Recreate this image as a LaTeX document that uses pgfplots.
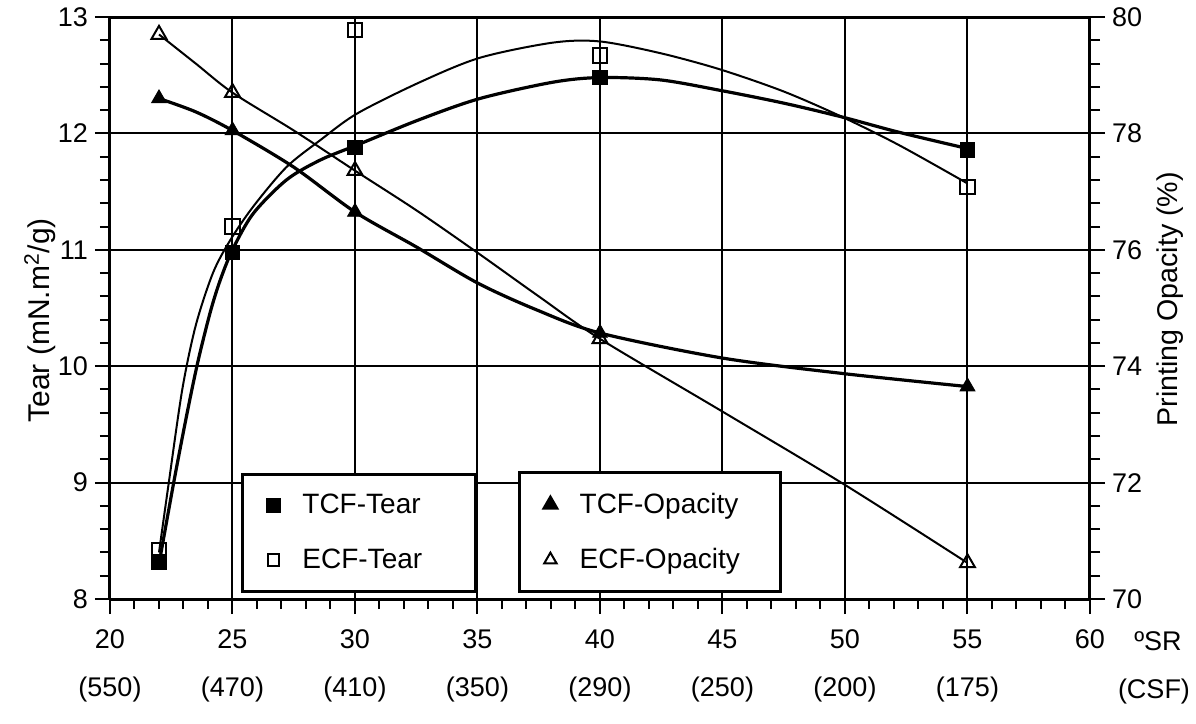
\documentclass[border=0pt]{standalone}
\usepackage{fontspec}
\setmainfont{Liberation Sans}
\usepackage{pgfplots}
\pgfplotsset{compat=1.18}
\begin{document}
\begin{tikzpicture}
\useasboundingbox (-55pt,-62.5pt) rectangle (543pt,299.5pt);
\pgfplotsset{
  base/.style={
    scale only axis, width=490pt, height=291pt, at={(0,0)}, anchor=south west,
    xmin=20, xmax=60,
    tick align=outside, major tick length=7.5pt, minor tick length=5pt,
    every tick/.style={black, line width=1pt},
    axis line style={line width=1.5pt},
    /pgf/number format/assume math mode=true,
    tick label style={font=\fontsize{13.5}{15}\selectfont},
    legend cell align=left,
  },
  lgd/.style={legend style={at={(rel axis cs:#1,0.0103)}, anchor=south west,
    draw=black, line width=1.5pt, inner xsep=12.5pt, inner ysep=8pt, row sep=12pt,
    font=\fontsize{14}{16}\selectfont,
    /tikz/every odd column/.append style={column sep=9.5pt}}},
}
% ---------------- Tear (left axis) ----------------
\begin{axis}[base, lgd=0.134, name=tear,
  legend image post style={mark size=2.9pt},
  ymin=8, ymax=13, ytick={8,9,...,13}, minor y tick num=4,
  xtick={20,25,...,60}, minor x tick num=4, xtick pos=left,
  xticklabels={{\strut 20\\[9pt]\strut(550)},{\strut 25\\[9pt]\strut(470)},{\strut 30\\[9pt]\strut(410)},{\strut 35\\[9pt]\strut(350)},{\strut 40\\[9pt]\strut(290)},{\strut 45\\[9pt]\strut(250)},{\strut 50\\[9pt]\strut(200)},{\strut 55\\[9pt]\strut(175)},{\strut 60}},
  xticklabel style={align=center, anchor=north, yshift=-3pt},
  axis y line*=left,
  grid=major, major grid style={black, line width=1pt},
  ylabel={Tear (mN.m\textsuperscript{2}/g)},
  every axis y label/.style={at={(rel axis cs:0,0.479)}, anchor=center, rotate=90, yshift=35pt, font=\fontsize{15}{17}\selectfont},
]
\addplot[black, line width=1.6pt, smooth, forget plot] coordinates {
 (22,8.3) (22.6,9.0) (23.15,9.6) (23.6,10.05) (24.1,10.47) (24.5,10.74) (25.0,11.0)
 (25.84,11.31) (27.2,11.6) (28.57,11.77) (30.08,11.9) (32.65,12.12) (35.1,12.3)
 (38.08,12.44) (40,12.48) (42.45,12.46) (44.9,12.37) (47.5,12.26) (49.9,12.14)
 (52.2,12.01) (55,11.87)};
\addplot[black, line width=1pt, smooth, forget plot] coordinates {
 (22,8.4) (22.4,9.0) (22.95,9.8) (23.5,10.35) (24.2,10.8) (24.9,11.08) (25.84,11.37)
 (27.2,11.71) (28.57,11.94) (30.08,12.17) (32.65,12.44) (35.1,12.65) (38.08,12.78)
 (40,12.79) (42.45,12.69) (44.9,12.55) (47.5,12.36) (49.9,12.14) (52.2,11.9) (55,11.57)};
\addplot[only marks, mark=square*, mark size=3.6pt, black] coordinates {
 (22,8.32) (25,10.98) (30,11.88) (40,12.48) (55,11.86)};
\addlegendentry{\makebox[72pt][l]{TCF-Tear}}
\addplot[only marks, mark=square, mark size=3.6pt, black, mark options={line width=1pt}] coordinates {
 (22,8.42) (25,11.2) (30,12.89) (40,12.67) (55,11.54)};
\addlegendentry{\makebox[72pt][l]{ECF-Tear}}
\end{axis}
% ---------------- Opacity (right axis) ----------------
\begin{axis}[base, lgd=0.416,
  legend image post style={mark size=3.6pt},
  ymin=70, ymax=80, ytick={70,72,...,80}, minor y tick num=4,
  axis y line*=right, axis x line=none,
  ylabel={Printing Opacity (\%)},
  every axis y label/.style={at={(rel axis cs:1,0.515)}, anchor=center, rotate=90, yshift=-40pt, font=\fontsize{14.3}{16}\selectfont},
]
\addplot[black, line width=1.6pt, smooth, forget plot] coordinates {
 (22,78.6) (23.5,78.37) (25,78.05) (27.5,77.42) (30,76.65) (32.5,76.05) (35,75.43)
 (37.4,74.97) (40,74.57) (45,74.14) (50,73.87) (55,73.65)};
\addplot[black, line width=1pt, smooth, forget plot] coordinates {
 (22,79.7) (23.5,79.2) (25,78.7) (27.5,78.05) (30,77.36) (32.5,76.68) (35,75.95)
 (37.5,75.2) (40,74.47) (45,73.22) (50,71.96) (55,70.62)};
\addplot[only marks, mark=triangle*, mark size=4.3pt, black] coordinates {
 (22,78.6) (25,78.05) (30,76.65) (40,74.57) (55,73.65)};
\addlegendentry{\makebox[86pt][l]{TCF-Opacity}}
\addplot[only marks, mark=triangle, mark size=4.3pt, black, mark options={line width=1pt}] coordinates {
 (22,79.7) (25,78.7) (30,77.36) (40,74.47) (55,70.62)};
\addlegendentry{\makebox[86pt][l]{ECF-Opacity}}
\end{axis}
\node[anchor=north, font=\fontsize{13.5}{15}\selectfont, inner sep=0pt] at ([xshift=34pt, yshift=-15pt]tear.south east) {\strut ºSR};
\node[anchor=north, font=\fontsize{13.5}{15}\selectfont, inner sep=0pt] at ([xshift=32pt, yshift=-39pt]tear.south east) {\strut (CSF)};
\end{tikzpicture}
\end{document}
